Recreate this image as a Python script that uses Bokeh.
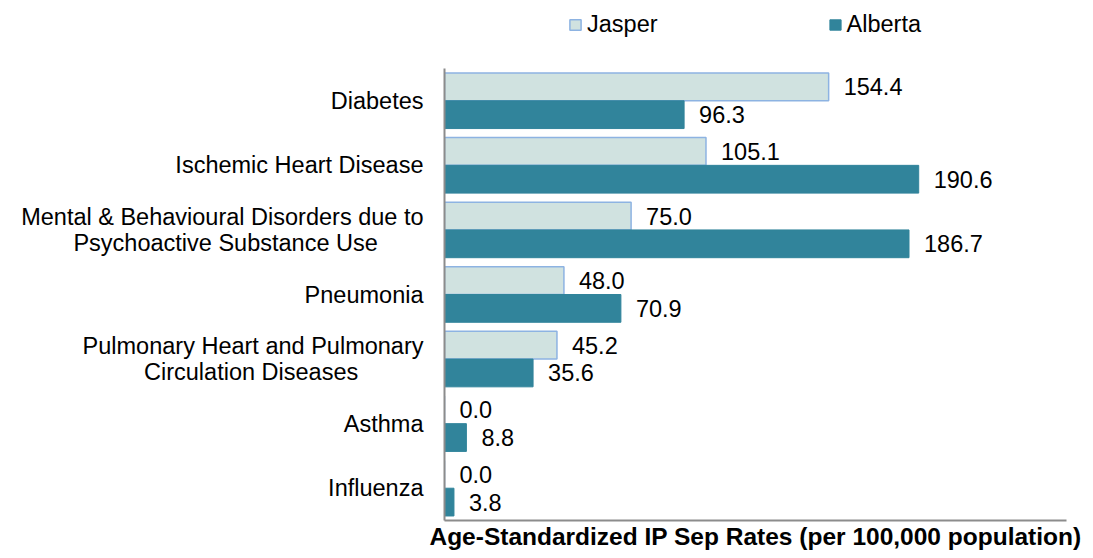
from bokeh.plotting import figure
from bokeh.layouts import column
from bokeh.models import FactorRange, Range1d, ColumnDataSource, Legend, LegendItem, FixedTicker
from bokeh.transform import dodge
from bokeh.core.properties import value
from bokeh.embed import file_html
from bokeh.resources import INLINE

NB = "\u00a0"
categories = [
    "Diabetes",
    "Ischemic Heart Disease",
    "Mental & Behavioural Disorders due to\nPsychoactive Substance Use" + NB * 7,
    "Pneumonia",
    "Pulmonary Heart and Pulmonary\nCirculation Diseases" + NB * 10,
    "Asthma",
    "Influenza",
]
jasper = [154.4, 105.1, 75.0, 48.0, 45.2, 0.0, 0.0]
alberta = [96.3, 190.6, 186.7, 70.9, 35.6, 8.8, 3.8]
series_names = ["Jasper", "Alberta"]
x_title = "Age-Standardized IP Sep Rates (per 100,000 population)"

FONT = "Liberation Sans"
FS = "23.5px"
JASPER_FILL = "#d0e2e0"
JASPER_LINE = "#8db3e2"
ALBERTA_FILL = "#31849b"
AXIS_COLOR = "#8c8c8c"

W = 1090
LEG_H = 68
MAIN_H = 555 - LEG_H
FRAME_L = 444
FRAME_R = 1066

src = ColumnDataSource(dict(
    cat=categories,
    jasper=jasper,
    alberta=alberta,
    jl=[f"{v:.1f}" for v in jasper],
    al=[f"{v:.1f}" for v in alberta],
))

p = figure(
    width=W, height=MAIN_H,
    y_range=FactorRange(factors=categories[::-1], range_padding=0),
    x_range=Range1d(0, 250),
    output_backend="svg", toolbar_location=None,
    min_border_left=FRAME_L, min_border_right=W - FRAME_R, min_border_top=0,
    min_border_bottom=MAIN_H - (520 - LEG_H),
)
p.outline_line_color = None
p.xgrid.visible = False
p.ygrid.visible = False

off = 0.215
bh = 0.43
jasper_style = dict(fill_color=JASPER_FILL, line_color=JASPER_LINE, line_width=1.5)
alberta_style = dict(fill_color=ALBERTA_FILL, line_color=ALBERTA_FILL, line_width=1)
p.hbar(y=dodge("cat", off, range=p.y_range), left=0, right="jasper", height=bh, source=src, **jasper_style)
p.hbar(y=dodge("cat", -off, range=p.y_range), left=0, right="alberta", height=bh, source=src, **alberta_style)

for col, lab, o in (("jasper", "jl", off), ("alberta", "al", -off)):
    p.text(x=col, y=dodge("cat", o, range=p.y_range), text=lab, source=src,
           x_offset=15, text_align="left", text_baseline="middle",
           text_font=value(FONT), text_font_size=FS, text_color="#000000")

# axes
p.xaxis.ticker = FixedTicker(ticks=[])
p.xaxis.axis_label = x_title
p.xaxis.axis_label_text_font = FONT
p.xaxis.axis_label_text_font_style = "bold"
p.xaxis.axis_label_text_font_size = "24.5px"
p.xaxis.axis_label_text_color = "#000000"
p.xaxis.axis_label_standoff = 2
p.xaxis.major_tick_out = 0
p.xaxis.major_tick_in = 0
p.xaxis.minor_tick_out = 0
p.xaxis.minor_tick_in = 0
p.xaxis.axis_line_color = AXIS_COLOR
p.xaxis.axis_line_width = 2

p.yaxis.major_label_text_font = FONT
p.yaxis.major_label_text_font_size = FS
p.yaxis.major_label_text_color = "#000000"
p.yaxis.major_label_text_line_height = 1.03
p.yaxis.major_tick_out = 0
p.yaxis.major_tick_in = 0
p.yaxis.major_label_standoff = 21
p.yaxis.axis_line_color = AXIS_COLOR
p.yaxis.axis_line_width = 2

# legend strip above the chart (its frame is aligned with the chart's frame)
lf = figure(width=W, height=LEG_H, x_range=Range1d(0, 1), y_range=Range1d(0, 1),
            x_axis_type=None, y_axis_type=None, output_backend="svg", toolbar_location=None,
            min_border=0, min_border_left=FRAME_L, min_border_right=W - FRAME_R)
lf.outline_line_color = None
lf.xgrid.visible = False
lf.ygrid.visible = False
proxy = ColumnDataSource(dict(y=[-5], right=[0]))
lj = lf.hbar(y="y", right="right", left=0, height=1, source=proxy, **jasper_style)
la = lf.hbar(y="y", right="right", left=0, height=1, source=proxy, **alberta_style)
legend = Legend(
    items=[LegendItem(label=series_names[0], renderers=[lj]),
           LegendItem(label=series_names[1], renderers=[la])],
    orientation="horizontal", location=(568 - FRAME_L, 30),
    padding=0, margin=0, spacing=170, label_standoff=5,
    glyph_width=14, glyph_height=13,
    label_text_font=FONT, label_text_font_size=FS, label_text_color="#000000",
    border_line_color=None, background_fill_alpha=0,
)
lf.add_layout(legend)

layout = column(lf, p, spacing=0)
open("out.html", "w").write(file_html(layout, INLINE))
